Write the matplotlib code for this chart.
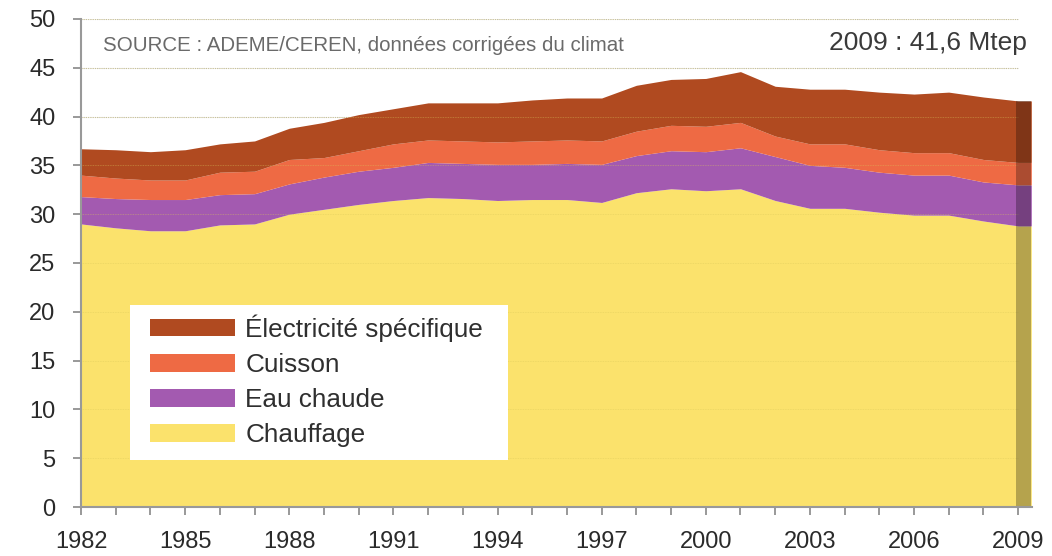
import matplotlib.pyplot as plt
import numpy as np
from matplotlib.patches import Patch, Rectangle

plt.rcParams['font.family'] = ['Liberation Sans', 'DejaVu Sans']

# Consommation d'énergie du résidentiel par usage (Mtep)
years = list(range(1982, 2010))
chauffage = [29.0, 28.6, 28.3, 28.3, 28.9, 29.0, 30.0, 30.5, 31.0, 31.4, 31.7, 31.6, 31.4, 31.5,
             31.5, 31.2, 32.2, 32.6, 32.4, 32.6, 31.4, 30.6, 30.6, 30.2, 29.9, 29.9, 29.3, 28.8]
eau_chaude_top = [31.8, 31.6, 31.5, 31.5, 32.0, 32.1, 33.1, 33.8, 34.4, 34.8, 35.3, 35.2, 35.1, 35.1,
                  35.2, 35.1, 36.0, 36.5, 36.4, 36.8, 35.9, 35.0, 34.8, 34.3, 34.0, 34.0, 33.3, 33.0]
cuisson_top = [34.0, 33.7, 33.5, 33.5, 34.3, 34.4, 35.6, 35.8, 36.5, 37.2, 37.6, 37.5, 37.4, 37.5,
               37.6, 37.5, 38.5, 39.1, 39.0, 39.4, 38.0, 37.2, 37.2, 36.6, 36.3, 36.3, 35.6, 35.3]
total = [36.7, 36.6, 36.4, 36.6, 37.2, 37.5, 38.8, 39.4, 40.2, 40.8, 41.4, 41.4, 41.4, 41.7,
         41.9, 41.9, 43.2, 43.8, 43.9, 44.6, 43.1, 42.8, 42.8, 42.5, 42.3, 42.5, 42.0, 41.6]

labels = ["Chauffage", "Eau chaude", "Cuisson", "Électricité spécifique"]
colors = ["#fbe26c", "#a35ab0", "#ee6a44", "#b04a20"]

fig = plt.figure(figsize=(10.52, 5.56), dpi=100)
ax = fig.add_axes([0.077, 0.088, 0.904, 0.878])

# last year drawn as a short flat band, as in the original
x = np.array(years + [years[-1] + 0.38], dtype=float)
layers = [np.array(v + [v[-1]]) for v in (chauffage, eau_chaude_top, cuisson_top, total)]
bottom = np.zeros_like(x)
for top, c in zip(layers, colors):
    ax.fill_between(x, bottom, top, color=c, lw=0, zorder=2)
    bottom = top

# darker strip on the final year
mask = x >= years[-1]
xs = np.concatenate([[years[-1] - 0.05], x[mask]])
ys = np.concatenate([[layers[-1][mask][0]], layers[-1][mask]])
ax.fill_between(xs, 0, ys, color="black", alpha=0.28, lw=0, zorder=3)

# dotted grid
for yv in range(5, 51, 5):
    ax.hlines(yv, years[0], years[-1], colors="#bbbbbb", linestyles=(0, (1, 1)), lw=0.8, zorder=1)
    ax.hlines(yv, years[0], years[-1], colors="#d9c65a", linestyles=(0, (1, 1)), lw=0.6, zorder=2.5, alpha=0.5)

ax.set_xlim(years[0], years[-1] + 0.4)
ax.set_ylim(0, 50)
ax.set_xticks(years)
ax.set_xticklabels([str(yr) if (yr - 1982) % 3 == 0 else "" for yr in years])
ax.set_yticks(range(0, 51, 5))
ax.tick_params(axis="both", colors="#888888", labelcolor="#2a2a2a", labelsize=17, length=5.5, width=1.2)
ax.tick_params(axis="x", pad=12)
ax.tick_params(axis="y", pad=13)
for s in ("top", "right"):
    ax.spines[s].set_visible(False)
for s in ("left", "bottom"):
    ax.spines[s].set_color("#999999")
    ax.spines[s].set_linewidth(1.5)
    ax.spines[s].set_zorder(4)

ax.text(0.023, 0.945, "SOURCE : ADEME/CEREN, données corrigées du climat", transform=ax.transAxes,
        fontsize=14.8, color="#6a6a6a", va="center", ha="left")
ax.text(0.995, 0.95, "2009 : 41,6 Mtep", transform=ax.transAxes,
        fontsize=19, color="#3a3a3a", va="center", ha="right")

# white legend panel
ax.add_patch(Rectangle((0.0515, 0.0963), 0.3975, 0.3176, transform=ax.transAxes,
                       facecolor="white", edgecolor="none", zorder=5))
handles = [Patch(facecolor=c, edgecolor="none") for c in colors][::-1]
leg = ax.legend(handles, labels[::-1], loc="upper left", bbox_to_anchor=(0.0726, 0.395),
                fontsize=18.8, frameon=False,
                handlelength=3.25, handleheight=0.66, labelspacing=0.43, handletextpad=0.4,
                borderpad=0, borderaxespad=0)
for t in leg.get_texts():
    t.set_color("#2f2f2f")
leg.set_zorder(6)

fig.savefig("out.png", dpi=100)
